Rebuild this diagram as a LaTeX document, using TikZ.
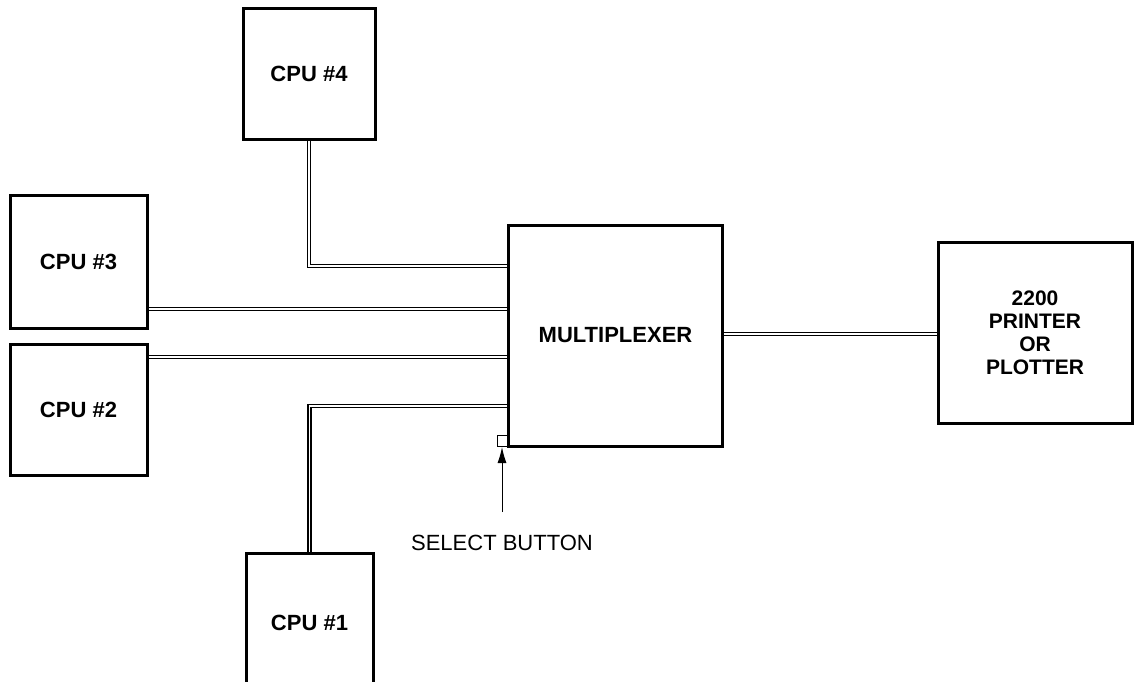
\documentclass[tikz,border=0pt]{standalone}
\usepackage{fontspec}
\setmainfont{Liberation Sans}
\usetikzlibrary{arrows.meta}
\tikzset{
  unitbox/.style={draw, line width=3pt, inner sep=0pt, font=\fontsize{22}{23}\selectfont\bfseries, align=center},
  cable/.style={draw, line width=1.7pt, double=white, double distance=1.3pt},
  btnbox/.style={draw, line width=1pt, minimum width=10pt, minimum height=11pt, inner sep=0pt},
  lbl/.style={font=\fontsize{22}{23}\selectfont, inner sep=0pt}
}
\begin{document}
\begin{tikzpicture}[x=1pt,y=-1pt]
\useasboundingbox (0,0) rectangle (1143,681);
\clip (0,0) rectangle (1143,681);
\fill[white] (0,0) rectangle (1143,681);
% boxes
\node[unitbox, minimum width=132pt, minimum height=131pt] (cpu4) at (309,74) {CPU \#4};
\node[unitbox, minimum width=137pt, minimum height=133pt] (cpu3) at (78.5,261.5) {CPU \#3};
\node[unitbox, minimum width=137pt, minimum height=131pt] (cpu2) at (78.5,409.5) {CPU \#2};
\node[unitbox, minimum width=127pt, minimum height=150pt] (cpu1) at (309.5,628) {};
\node[lbl, font=\fontsize{22}{23}\selectfont\bfseries] (cpu1t) at (309.5,623) {CPU \#1};
\node[unitbox, minimum width=214pt, minimum height=221pt] (mux) at (615.5,335.5) {MULTIPLEXER};
\node[unitbox, minimum width=194pt, minimum height=181pt, font=\fontsize{21}{23}\selectfont\bfseries] (prn) at (1035,332.5) {2200\\PRINTER\\OR\\PLOTTER};
% cables
\draw[cable] (cpu4.south) |- (mux.west |- 0,266);
\draw[cable] (cpu3.east |- 0,309) -- (mux.west |- 0,309);
\draw[cable] (cpu2.east |- 0,357) -- (mux.west |- 0,357);
\draw[cable] (cpu1.north) |- (mux.west |- 0,406);
\draw[cable] (mux.east |- 0,334) -- (prn.west |- 0,334);
% select button
\node[btnbox, fill=white] (btn) at (502,441) {};
\coordinate (arrtail) at (502,512);
\draw[line width=1pt, -{Latex[length=16pt,width=9pt]}] (arrtail) -- (btn.south);
\node[lbl] (sel) at (502,543) {SELECT BUTTON};
\end{tikzpicture}
\end{document}
